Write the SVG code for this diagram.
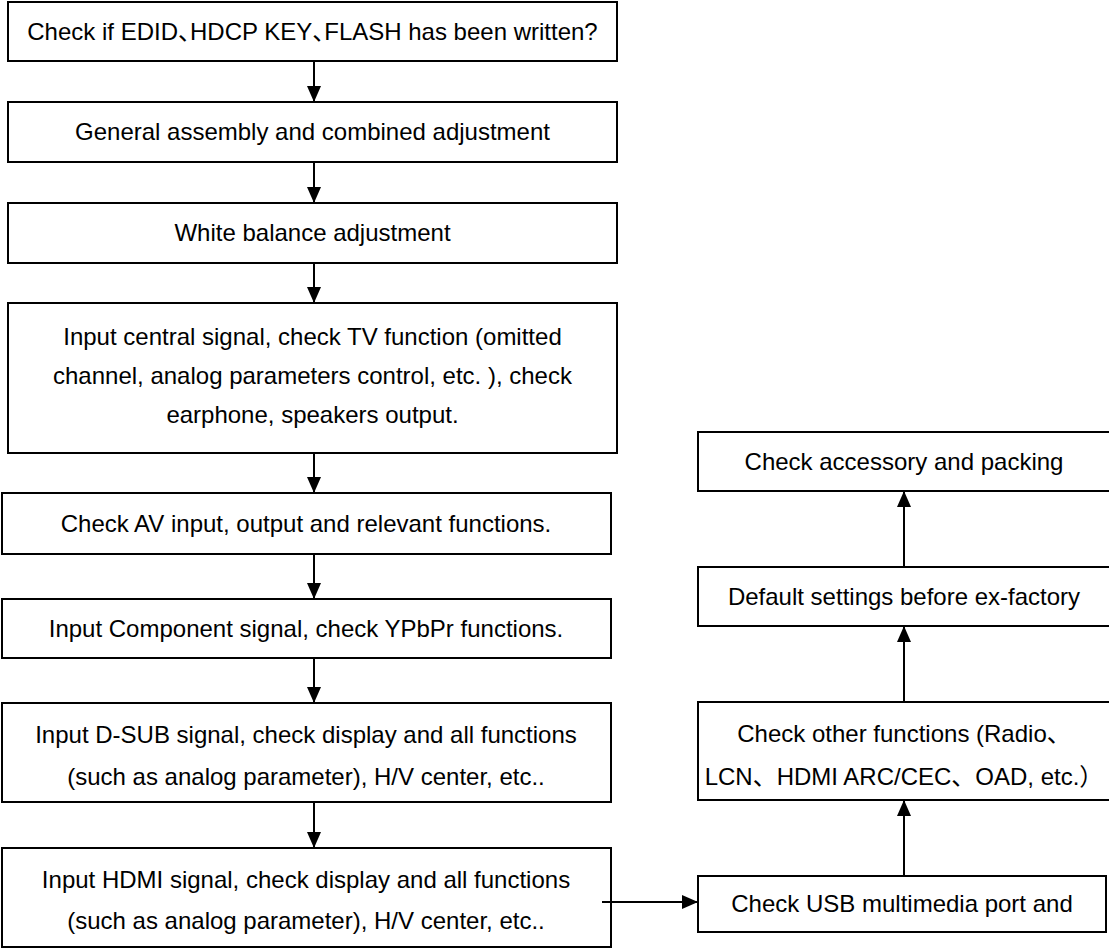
<svg xmlns="http://www.w3.org/2000/svg" width="1109" height="950" viewBox="0 0 1109 950">
<style>
.box{fill:#fff;stroke:#000;stroke-width:2}
.t{font-family:"Liberation Sans","Noto Sans CJK SC",Arial,sans-serif;font-size:24px;fill:#000;text-anchor:middle}
.c{stroke:#000;stroke-width:2;fill:none;marker-end:url(#ah)}
</style>
<defs>
<marker id="ah" markerUnits="userSpaceOnUse" markerWidth="18" markerHeight="16" refX="16" refY="7.5" orient="auto">
<path d="M0,0.5 L16,7.5 L0,14.5 Z" fill="#000"/>
</marker>
</defs>
<rect width="1109" height="950" fill="#fff"/>
<g id="n1"><rect class="box" x="8" y="2" width="609" height="59"/><text class="t" x="312.5" y="40">Check if EDID、<tspan dx="-12">HDCP KEY、</tspan><tspan dx="-12">FLASH has been written?</tspan></text></g>
<g id="n2"><rect class="box" x="8" y="102" width="609" height="60"/><text class="t" x="312.5" y="140">General assembly and combined adjustment</text></g>
<g id="n3"><rect class="box" x="8" y="203" width="609" height="60"/><text class="t" x="312.5" y="241">White balance adjustment</text></g>
<g id="n4"><rect class="box" x="8" y="303" width="609" height="150"/>
<text class="t" x="312.5" y="345">Input central signal, check TV function (omitted</text>
<text class="t" x="312.5" y="384">channel, analog parameters control, etc. ), check</text>
<text class="t" x="312.5" y="423">earphone, speakers output.</text></g>
<g id="n5"><rect class="box" x="2" y="493" width="609" height="61"/><text class="t" x="306" y="532">Check AV input, output and relevant functions.</text></g>
<g id="n6"><rect class="box" x="2" y="599" width="609" height="59"/><text class="t" x="306" y="637">Input Component signal, check YPbPr functions.</text></g>
<g id="n7"><rect class="box" x="2" y="703" width="609" height="99"/>
<text class="t" x="306" y="743">Input D-SUB signal, check display and all functions</text>
<text class="t" x="306" y="785">(such as analog parameter), H/V center, etc..</text></g>
<g id="n8"><rect class="box" x="2" y="848" width="609" height="99"/>
<text class="t" x="306" y="888">Input HDMI signal, check display and all functions</text>
<text class="t" x="306" y="929">(such as analog parameter), H/V center, etc..</text></g>
<g id="r1"><rect class="box" x="698" y="432" width="420" height="59"/><text class="t" x="904" y="470">Check accessory and packing</text></g>
<g id="r2"><rect class="box" x="698" y="567" width="420" height="59"/><text class="t" x="904" y="605">Default settings before ex-factory</text></g>
<g id="r3"><rect class="box" x="698" y="702" width="420" height="98"/>
<text class="t" x="904" y="742">Check other functions (Radio、</text>
<text class="t" x="904" y="785">LCN、HDMI ARC/CEC、OAD, etc.）</text></g>
<g id="r4"><rect class="box" x="698" y="876" width="408" height="56"/><text class="t" x="902" y="912">Check USB multimedia port and</text></g>
<g id="connectors">
<line class="c" x1="314" y1="61" x2="314" y2="102"/>
<line class="c" x1="314" y1="162" x2="314" y2="203"/>
<line class="c" x1="314" y1="263" x2="314" y2="303"/>
<line class="c" x1="314" y1="453" x2="314" y2="493"/>
<line class="c" x1="314" y1="554" x2="314" y2="599"/>
<line class="c" x1="314" y1="658" x2="314" y2="703"/>
<line class="c" x1="314" y1="802" x2="314" y2="848"/>
<line class="c" x1="602" y1="902" x2="698" y2="902"/>
<line class="c" x1="904" y1="876" x2="904" y2="800"/>
<line class="c" x1="904" y1="702" x2="904" y2="626"/>
<line class="c" x1="904" y1="567" x2="904" y2="491"/>
</g>
</svg>
